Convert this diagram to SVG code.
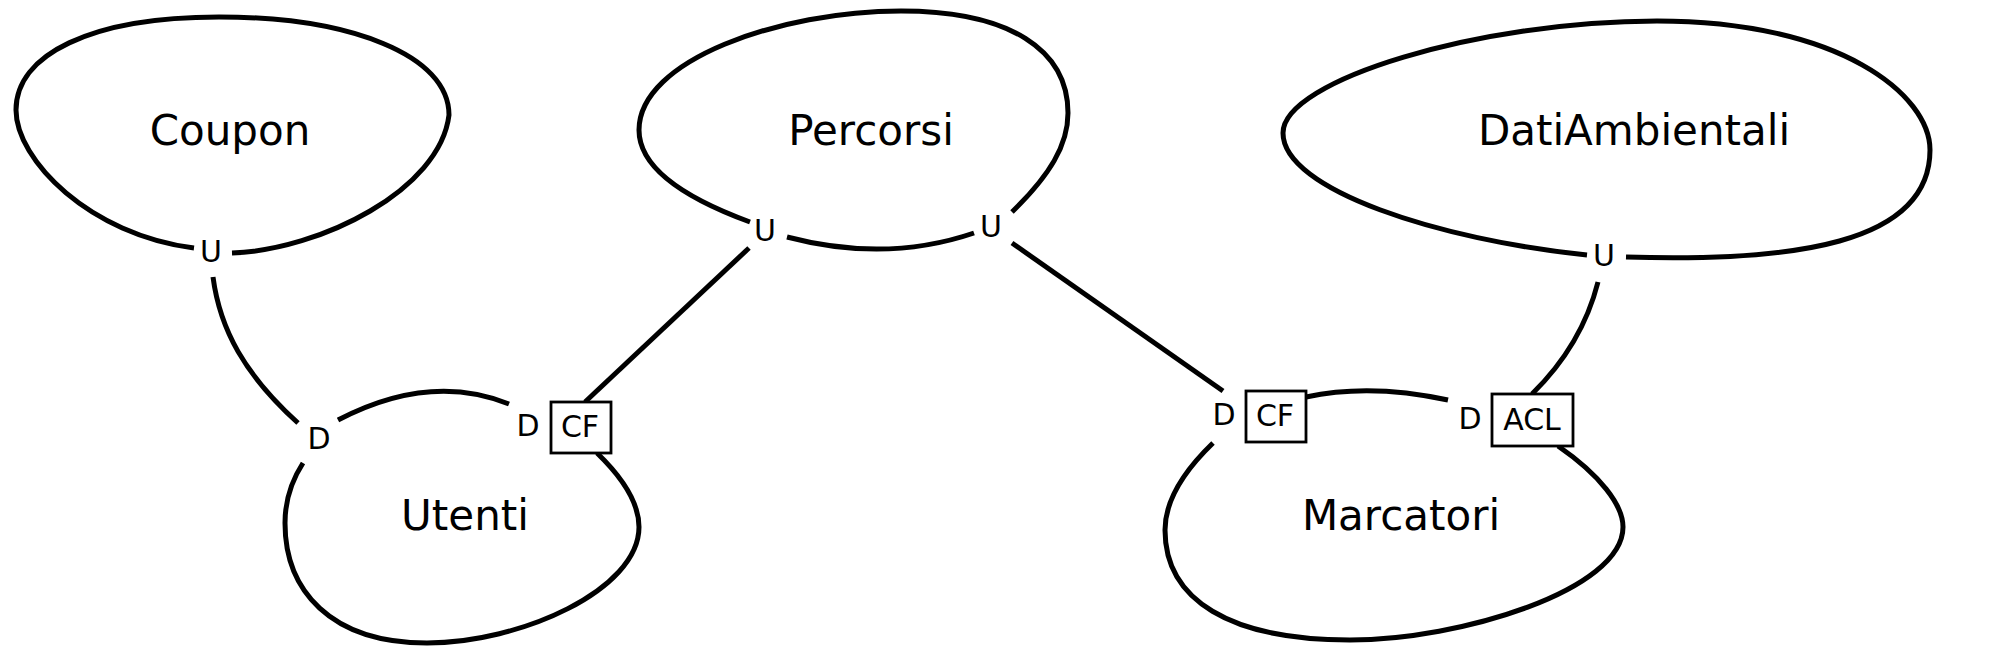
<svg xmlns="http://www.w3.org/2000/svg" width="2000" height="660" viewBox="0 0 2000 660">
<style>
.blob{fill:none;stroke:#000;stroke-width:5;stroke-linecap:butt}
.conn{fill:none;stroke:#000;stroke-width:5}
.box{fill:#fff;stroke:#000;stroke-width:2.8}
.name{font-family:"DejaVu Sans",sans-serif;font-size:42px;text-anchor:middle;fill:#000}
.lbl{font-family:"DejaVu Sans",sans-serif;font-size:30px;text-anchor:middle;fill:#000}
</style>
<rect width="2000" height="660" fill="#fff"/>
<g id="connectors">
<path class="conn" d="M213,277 C220,330 245,375 298,423"/>
<path class="conn" d="M749,248 L585,402"/>
<path class="conn" d="M1012,243 L1223,391"/>
<path class="conn" d="M1598,282 Q1582,345 1532,394"/>
</g>
<g id="Coupon">
<path class="blob" d="M232,253 C320,250 440,190 449,115 C449,55 350,17 219,17 C90,17 16,55 16,110 C16,160 90,235 194,248"/>
<text class="name" x="230" y="145">Coupon</text>
<text class="lbl" x="211" y="262">U</text>
</g>
<g id="Percorsi">
<path class="blob" d="M1012,212 C1050,175 1068,145 1068,113 C1068,50 1010,11 901,11 C780,11 639,60 639,130 C639,170 690,200 750,222"/>
<path class="blob" d="M787,237 Q886,263 974,233"/>
<text class="name" x="871" y="145">Percorsi</text>
<text class="lbl" x="765" y="241">U</text>
<text class="lbl" x="991" y="237">U</text>
</g>
<g id="DatiAmbientali">
<path class="blob" d="M1626,257 C1790,262 1930,245 1930,150 C1930,95 1840,21 1657,21 C1480,21 1283,80 1283,133 C1283,190 1440,240 1587,255"/>
<text class="name" x="1634" y="145">DatiAmbientali</text>
<text class="lbl" x="1604" y="266">U</text>
</g>
<g id="Utenti">
<path class="blob" d="M338,420 Q430,372 509,404"/>
<path class="blob" d="M597,453 C625,480 639,505 639,527 C639,590 520,643 427,643 C330,643 285,590 285,523 C285,500 292,480 303,463"/>
<text class="name" x="465" y="530">Utenti</text>
<text class="lbl" x="319" y="449">D</text>
<text class="lbl" x="528" y="436">D</text>
<rect class="box" x="551" y="402" width="60" height="51"/>
<text class="lbl" x="580" y="437">CF</text>
</g>
<g id="Marcatori">
<path class="blob" d="M1306,397 Q1370,383 1448,400"/>
<path class="blob" d="M1558,446 C1600,475 1623,505 1623,527 C1623,590 1460,640 1350,640 C1230,640 1165,600 1165,530 C1165,500 1185,470 1213,443"/>
<text class="name" x="1401" y="530">Marcatori</text>
<text class="lbl" x="1224" y="425">D</text>
<rect class="box" x="1246" y="391" width="60" height="51"/>
<text class="lbl" x="1275" y="426">CF</text>
<text class="lbl" x="1470" y="429">D</text>
<rect class="box" x="1492" y="394" width="81" height="52"/>
<text class="lbl" x="1532" y="430">ACL</text>
</g>
</svg>
